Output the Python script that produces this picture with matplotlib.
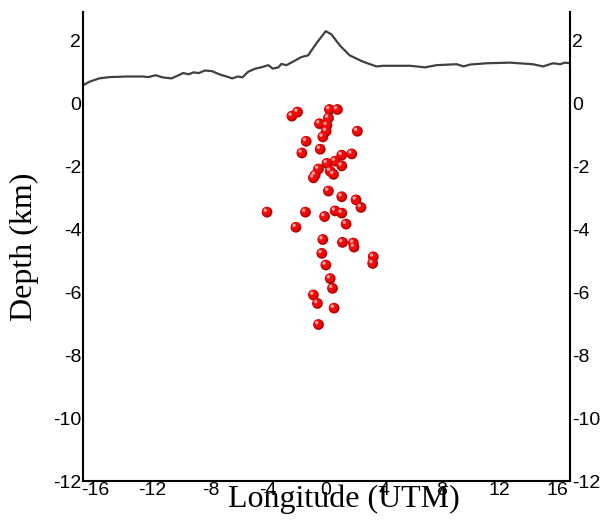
import matplotlib.pyplot as plt
import matplotlib.transforms as mtransforms

plt.rcParams['axes.unicode_minus'] = False

# topography profile along the section (km)
topo_x = [-16.85, -16.4, -15.7, -15.0, -13.8, -12.7, -12.3, -11.8, -11.3, -10.7,
          -10.2, -9.9, -9.5, -9.2, -8.8, -8.4, -7.9, -7.4, -6.9, -6.5,
          -6.1, -5.8, -5.4, -4.9, -4.5, -4.0, -3.7, -3.3, -3.1, -2.75,
          -2.3, -1.7, -1.25, -0.68, -0.03, 0.36, 0.94, 1.63, 2.55, 3.48,
          3.94, 4.87, 5.79, 6.25, 6.83, 7.64, 9.03, 9.5, 9.96, 11.1,
          12.7, 14.3, 15.0, 15.7, 16.2, 16.5, 16.9]
topo_z = [0.56, 0.68, 0.79, 0.83, 0.85, 0.85, 0.83, 0.89, 0.82, 0.79,
          0.89, 0.96, 0.92, 0.98, 0.96, 1.04, 1.02, 0.92, 0.85, 0.79,
          0.85, 0.82, 1.0, 1.1, 1.14, 1.21, 1.1, 1.14, 1.25, 1.21,
          1.32, 1.47, 1.52, 1.9, 2.29, 2.19, 1.84, 1.52, 1.32, 1.17,
          1.19, 1.19, 1.19, 1.17, 1.14, 1.21, 1.24, 1.17, 1.23, 1.27,
          1.29, 1.24, 1.17, 1.27, 1.24, 1.29, 1.27]

# earthquake hypocentres
eq_x = [-2.37, -1.98, 0.23, 0.78, 0.16, -0.46, 0.05, 0.0, -0.23, 2.16,
        -1.38, -1.68, -0.41, 1.77, 1.08, 0.62, 0.05, 1.08, -0.53, 0.28,
        -0.76, 0.51, -0.88, 0.16, 1.08, 2.07, 2.41, -4.09, -1.43, -0.11,
        0.62, 1.08, -2.09, 1.38, -0.23, 1.13, 1.88, 1.93, -0.3, 3.26,
        3.22, -0.02, 0.28, 0.44, -0.88, -0.6, 0.55, -0.53]
eq_z = [-0.41, -0.28, -0.2, -0.2, -0.47, -0.65, -0.7, -0.89, -1.07, -0.89,
        -1.21, -1.58, -1.46, -1.61, -1.65, -1.84, -1.91, -1.99, -2.09, -2.16,
        -2.28, -2.26, -2.37, -2.79, -2.97, -3.07, -3.31, -3.46, -3.46, -3.6,
        -3.42, -3.49, -3.94, -3.84, -4.33, -4.42, -4.44, -4.57, -4.77, -4.88,
        -5.09, -5.14, -5.57, -5.88, -6.09, -6.36, -6.51, -7.03]

x_ticks = [-16, -12, -8, -4, 0, 4, 8, 12, 16]
y_ticks = [-12, -10, -8, -6, -4, -2, 0, 2]

fig = plt.figure(figsize=(6.03, 5.2), dpi=100)
ax = fig.add_axes([0.137, 0.075, 0.809, 0.902])

ax.plot(topo_x, topo_z, color='#404040', lw=1.6)

# shaded balls: dark rim, red body, light highlight
ax.scatter(eq_x, eq_z, s=60, color='#b80000', edgecolors='none', zorder=3)
body = mtransforms.offset_copy(ax.transData, fig=fig, x=-0.7, y=0.7, units='dots')
ax.scatter(eq_x, eq_z, s=38, color='#f00a0a', edgecolors='none', zorder=4, transform=body)
hl = mtransforms.offset_copy(ax.transData, fig=fig, x=-1.8, y=1.9, units='dots')
ax.scatter(eq_x, eq_z, s=6, color='#ffa0a0', edgecolors='none', zorder=5, transform=hl)

ax.set_xlim(-16.85, 16.9)
ax.set_ylim(-12, 2.9)
ax.set_xticks(x_ticks)
ax.set_yticks(y_ticks)
ax.tick_params(length=0, pad=1, labelsize=14, right=True, labelright=True)
for lab in ax.get_xticklabels() + ax.get_yticklabels():
    lab.set_fontfamily('Liberation Sans')

ax.spines['top'].set_visible(False)
for s in ['left', 'right', 'bottom']:
    ax.spines[s].set_linewidth(1.5)

ax.set_xlabel('Longitude (UTM)', fontfamily='Liberation Serif', fontsize=23)
ax.xaxis.set_label_coords(0.535, -0.008)
ax.set_ylabel('Depth (km)', fontfamily='Liberation Serif', fontsize=23)
ax.yaxis.set_label_coords(-0.09, 0.5)

fig.savefig('out.png', dpi=100)
